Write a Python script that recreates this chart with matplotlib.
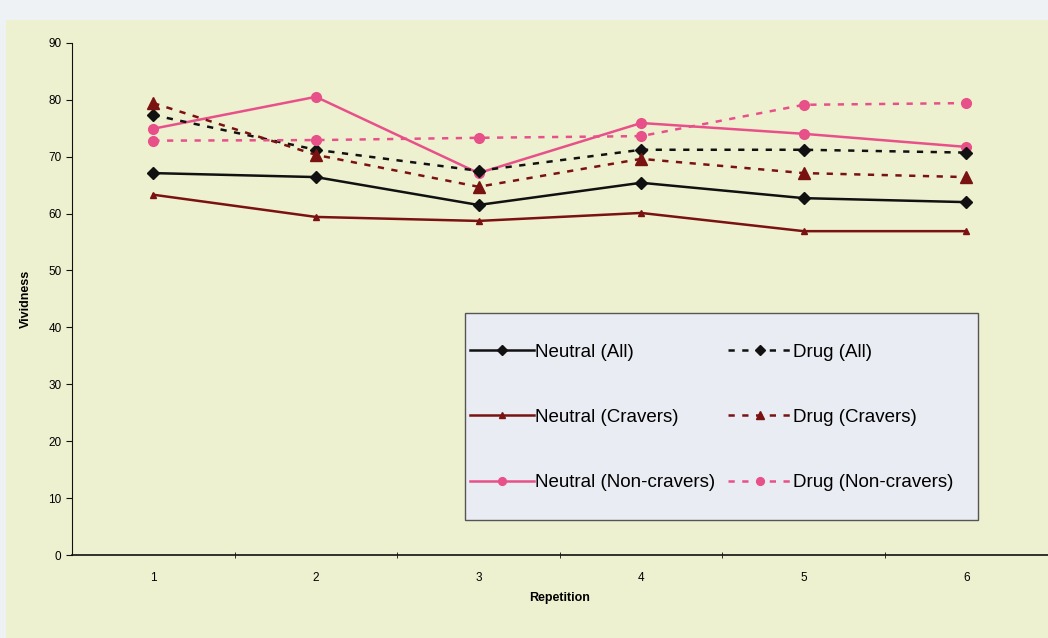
import numpy as np
import matplotlib
matplotlib.use("Agg")
import matplotlib.pyplot as plt
from matplotlib.patches import Rectangle

repetition = [1, 2, 3, 4, 5, 6]

neutral_all = [67.1, 66.4, 61.5, 65.4, 62.7, 62.0]
neutral_cravers = [63.3, 59.4, 58.7, 60.1, 56.9, 56.9]
neutral_noncravers = [74.9, 80.5, 67.1, 75.9, 74.0, 71.7]
drug_all = [77.3, 71.2, 67.5, 71.2, 71.2, 70.7]
drug_cravers = [79.4, 70.3, 64.7, 69.6, 67.1, 66.4]
drug_noncravers = [72.8, 72.9, 73.3, 73.6, 79.1, 79.4]

BLACK = "#111111"
DARKRED = "#7a1212"
PINK = "#e8508a"
PAPER = "#eef1d0"
FONT = ["Liberation Sans", "DejaVu Sans"]

plt.rcParams["font.family"] = FONT


def main():
    fig = plt.figure(figsize=(10.48, 6.38), dpi=100)
    fig.patch.set_facecolor(PAPER)
    # pale margin along the top and left edges
    fig.patches.append(Rectangle((0, 0.969), 1, 0.031, transform=fig.transFigure,
                                 facecolor="#eef2f5", edgecolor="none", zorder=0))
    fig.patches.append(Rectangle((0, 0), 0.006, 1, transform=fig.transFigure,
                                 facecolor="#eef2f5", edgecolor="none", zorder=0))

    ax = fig.add_axes([0.0687, 0.130, 0.931, 0.803])
    ax.set_facecolor("none")

    dash = (0, (2.5, 3))
    neutral = [
        (neutral_all, BLACK, "D", "Neutral (All)", 6),
        (neutral_cravers, DARKRED, "^", "Neutral (Cravers)", 5),
        (neutral_noncravers, PINK, "o", "Neutral (Non-cravers)", 7),
    ]
    drug = [
        (drug_all, BLACK, "D", "Drug (All)", 6),
        (drug_cravers, DARKRED, "^", "Drug (Cravers)", 8),
        (drug_noncravers, PINK, "o", "Drug (Non-cravers)", 7),
    ]
    handles = []
    for group, ls in ((neutral, "-"), (drug, dash)):
        for vals, color, marker, label, ms in group:
            line, = ax.plot(repetition, vals, color=color, marker=marker, linestyle=ls,
                            linewidth=1.8, markersize=ms, label=label)
            handles.append(line)

    ax.set_xlim(0.5, 6.5)
    ax.set_ylim(0, 90)
    ax.set_yticks(np.arange(0, 91, 10))
    ax.set_xticks(repetition)
    ax.set_xticks(np.arange(1.5, 6.5, 1), minor=True)
    ax.tick_params(axis="x", which="major", length=0, pad=12, labelsize=8.5)
    ax.tick_params(axis="x", which="minor", length=5, direction="inout", color=BLACK)
    ax.tick_params(axis="y", length=4, color=BLACK, labelsize=8.5)
    for side in ("top", "right"):
        ax.spines[side].set_visible(False)
    ax.spines["left"].set_color(BLACK)
    ax.spines["bottom"].set_color(BLACK)
    ax.spines["bottom"].set_linewidth(1.2)

    ax.set_xlabel("Repetition", fontsize=9, fontweight="bold", labelpad=6)
    ax.set_ylabel("Vividness", fontsize=9, fontweight="bold", labelpad=12)

    # legend box drawn separately so the padding can differ by side
    ax.add_patch(Rectangle((0.403, 0.068), 0.526, 0.405, transform=ax.transAxes,
                           facecolor="#e9ecf2", edgecolor="#555555", linewidth=1.0,
                           zorder=4))
    leg = ax.legend(handles=handles, ncol=2, loc="upper left",
                    bbox_to_anchor=(0.408, 0.473 - 31 / 512), fontsize=13.5,
                    frameon=False, labelspacing=2.56, columnspacing=0.65,
                    handlelength=3.4, handletextpad=0.08, borderpad=0,
                    borderaxespad=0, markerscale=0.8)
    leg.set_zorder(5)

    fig.savefig("out.png", dpi=100, facecolor=fig.get_facecolor())
    plt.close(fig)


if __name__ == "__main__":
    main()
